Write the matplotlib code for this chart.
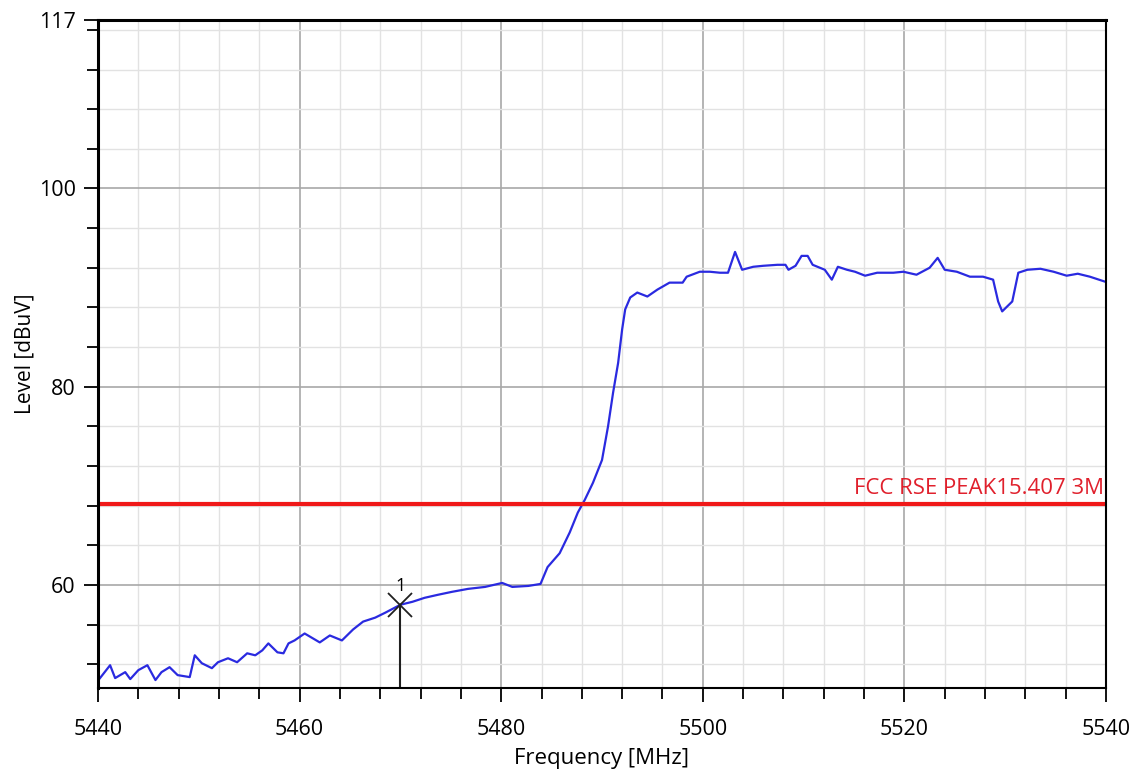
import numpy as np
import matplotlib
matplotlib.use("Agg")
from matplotlib import pyplot as plt
from matplotlib.ticker import MultipleLocator, FixedLocator

# trace (MHz, dBuV)
freq = [5440.2, 5441.2, 5441.7, 5442.7, 5443.2, 5444.0, 5444.9, 5445.7, 5446.3, 5447.1,
        5447.9, 5449.1, 5449.6, 5450.3, 5451.3, 5451.9, 5452.9, 5453.8, 5454.8, 5455.6,
        5456.3, 5456.9, 5457.8, 5458.4, 5458.9, 5459.5, 5460.5, 5462.0, 5463.0, 5464.2,
        5465.3, 5466.3, 5467.5, 5468.5, 5470.0, 5471.2, 5472.4, 5473.7, 5475.1, 5476.7,
        5478.4, 5480.1, 5481.1, 5482.7, 5483.9, 5484.6, 5485.8, 5486.8, 5487.6, 5488.3,
        5489.1, 5490.0, 5490.6, 5491.1, 5491.6, 5492.0, 5492.3, 5492.8, 5493.5, 5494.5,
        5495.5, 5496.7, 5498.0, 5498.4, 5499.7, 5500.7, 5501.7, 5502.5, 5503.2, 5503.9,
        5505.0, 5506.0, 5507.4, 5508.2, 5508.5, 5509.2, 5509.8, 5510.4, 5510.9,
        5512.1, 5512.8, 5513.4, 5514.3, 5515.1, 5516.1, 5517.3, 5518.9, 5519.9,
        5521.2, 5522.5, 5523.3, 5524.0, 5525.2, 5526.5, 5527.8, 5528.8, 5529.3, 5529.7,
        5530.7, 5531.3, 5532.2, 5533.5, 5534.8, 5536.1, 5537.2, 5538.4, 5539.9]
level = [50.6, 51.9, 50.6, 51.2, 50.5, 51.4, 51.9, 50.4, 51.2, 51.7,
         50.9, 50.7, 52.9, 52.1, 51.6, 52.2, 52.6, 52.2, 53.1, 52.9,
         53.4, 54.1, 53.2, 53.1, 54.1, 54.4, 55.1, 54.2, 54.9, 54.4,
         55.5, 56.3, 56.7, 57.2, 58.0, 58.3, 58.7, 59.0, 59.3, 59.6,
         59.8, 60.2, 59.8, 59.9, 60.1, 61.8, 63.2, 65.3, 67.3, 68.6,
         70.3, 72.6, 76.0, 79.4, 82.4, 85.8, 87.8, 89.0, 89.5, 89.1,
         89.8, 90.5, 90.5, 91.1, 91.6, 91.6, 91.5, 91.5, 93.6, 91.8,
         92.1, 92.2, 92.3, 92.3, 91.8, 92.2, 93.2, 93.2, 92.3,
         91.8, 90.8, 92.1, 91.8, 91.6, 91.2, 91.5, 91.5, 91.6,
         91.3, 92.0, 93.0, 91.8, 91.6, 91.1, 91.1, 90.8, 88.6, 87.6,
         88.6, 91.5, 91.8, 91.9, 91.6, 91.2, 91.4, 91.1, 90.6]

limit_level = 68.2
limit_label = "FCC RSE PEAK15.407 3M"
marker_freq = 5470.0
marker_level = 58.0
x_ticks = [5440, 5460, 5480, 5500, 5520, 5540]
y_ticks = [60, 80, 100, 117]

plt.rcParams['font.family'] = ['Open Sans', 'DejaVu Sans']

fig = plt.figure(figsize=(11.38, 7.76), dpi=100)
ax = fig.add_axes([98/1138, 1 - 688/776, 1008/1138, 668/776])

ax.plot(freq, level, color="#2a2ae0", lw=1.6)
ax.axhline(limit_level, color="#f01818", lw=3)
ax.text(5539.8, limit_level + 0.5, limit_label, color="#e0202c", fontsize=16,
        ha="right", va="bottom")

# marker 1
ax.plot([marker_freq, marker_freq], [49.6, marker_level], color="#202020", lw=1.5)
ax.plot(marker_freq, marker_level, marker="x", color="#202020", ms=17, mew=1.3)
ax.text(marker_freq, marker_level + 1.0, "1", ha="center", va="bottom", fontsize=13)

ax.set_xlim(5440, 5540)
ax.set_ylim(49.6, 117)
ax.xaxis.set_major_locator(FixedLocator(x_ticks))
ax.xaxis.set_minor_locator(MultipleLocator(4))
ax.yaxis.set_major_locator(FixedLocator(y_ticks))
ax.yaxis.set_minor_locator(FixedLocator([52, 56, 64, 68, 72, 76, 84, 88, 92, 96,
                                         104, 108, 112, 116]))

ax.grid(True, which="major", color="#a8a8a8", lw=1.2)
ax.grid(True, which="minor", color="#e2e2e2", lw=1.0)
ax.tick_params(which="both", direction="out", color="black", width=1.3)
ax.tick_params(which="major", length=10, labelsize=15.5)
ax.tick_params(axis="x", which="major", pad=12)
ax.tick_params(axis="y", which="major", pad=6)
ax.tick_params(which="minor", length=8)
for s in ax.spines.values():
    s.set_linewidth(1.5)
    s.set_color("black")
ax.spines["top"].set_linewidth(2.2)
ax.spines["left"].set_linewidth(2.2)

ax.set_xlabel("Frequency [MHz]", fontsize=16, labelpad=6)
ax.set_ylabel("Level [dBuV]", fontsize=15, labelpad=2)

plt.savefig("out.png")
plt.close()
